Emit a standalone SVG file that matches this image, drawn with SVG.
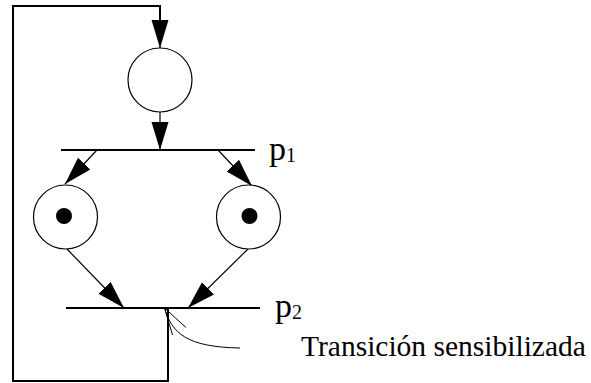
<svg xmlns="http://www.w3.org/2000/svg" width="591" height="383" viewBox="0 0 591 383">
<style>
.place{fill:#fff;stroke:#000;stroke-width:1.2}
.token{fill:#000}
.trans{stroke:#000;stroke-width:2;fill:none}
.arc{stroke:#000;stroke-width:1.2;fill:none;marker-end:url(#ah)}
.loop{stroke:#000;stroke-width:2;fill:none}
.thin{stroke:#000;stroke-width:1;fill:none}
text{fill:#000;font-family:'Liberation Serif','Times New Roman',serif}
</style>
<defs>
<marker id="ah" markerUnits="userSpaceOnUse" markerWidth="30" markerHeight="18" refX="28" refY="8.5" orient="auto">
<path d="M0,0 L28,8.5 L0,17 z" fill="#000"/>
</marker>
</defs>
<rect width="591" height="383" fill="#fff"/>
<g id="connectors">
<path class="loop" d="M168,308 L168,381 L13,381 L13,6 L160,6 L160,30"/>
<path class="arc" d="M160,28 L160,48"/>
<path class="arc" d="M160,112 L160,150"/>
<path class="arc" d="M97,150 L65,184"/>
<path class="arc" d="M218,150 L252,186"/>
<path class="arc" d="M67,249 L124,308"/>
<path class="arc" d="M248,249 L188,308"/>
<path class="thin" d="M172.5,335 L164.5,308 L186,327.5"/>
<path class="thin" d="M164.5,308 C172,333 186,347 240,348"/>
</g>
<g id="place-top"><circle class="place" cx="160" cy="80" r="32"/></g>
<g id="place-left"><circle class="place" cx="65.5" cy="217" r="32"/><circle class="token" cx="64" cy="216" r="8"/></g>
<g id="place-right"><circle class="place" cx="248.5" cy="217" r="32"/><circle class="token" cx="249.5" cy="216" r="8"/></g>
<g id="transition-p1"><line class="trans" x1="61" y1="150" x2="255" y2="150"/>
<text x="269" y="160" font-size="34">p<tspan font-size="20" dy="2">1</tspan></text></g>
<g id="transition-p2"><line class="trans" x1="66" y1="308" x2="260" y2="308"/>
<text x="275" y="317" font-size="34">p<tspan font-size="20" dy="2">2</tspan></text></g>
<g id="label-sens"><text x="301" y="356" font-size="29.5">Transición sensibilizada</text></g>
</svg>
